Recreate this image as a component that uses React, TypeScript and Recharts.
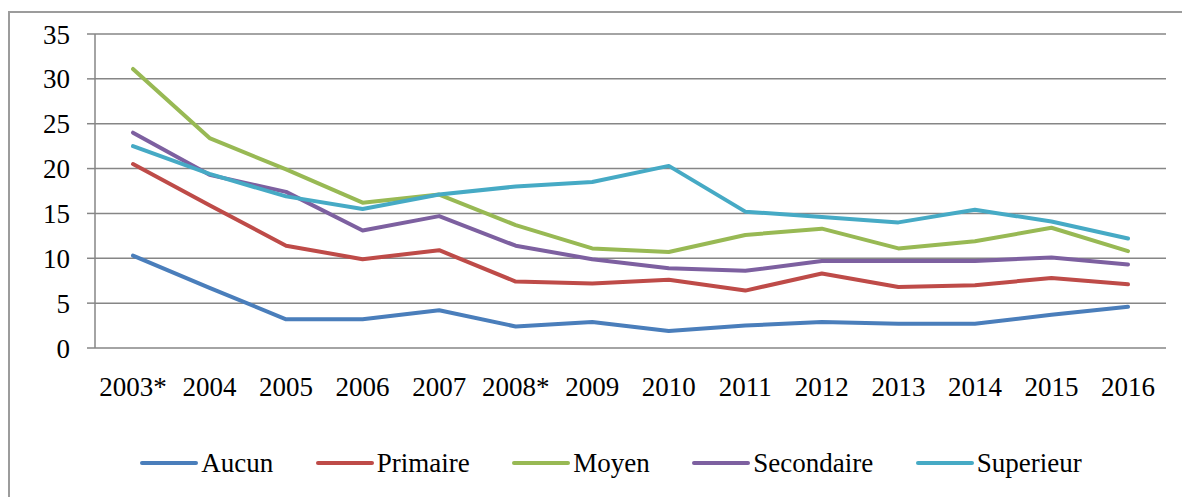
import { LineChart, Line, XAxis, YAxis, CartesianGrid, Legend } from 'recharts';

const years = ['2003*', '2004', '2005', '2006', '2007', '2008*', '2009', '2010', '2011', '2012', '2013', '2014', '2015', '2016'];

const aucun = [10.3, 6.7, 3.2, 3.2, 4.2, 2.4, 2.9, 1.9, 2.5, 2.9, 2.7, 2.7, 3.7, 4.6];
const primaire = [20.5, 15.9, 11.4, 9.9, 10.9, 7.4, 7.2, 7.6, 6.4, 8.3, 6.8, 7.0, 7.8, 7.1];
const moyen = [31.1, 23.4, 19.9, 16.2, 17.1, 13.7, 11.1, 10.7, 12.6, 13.3, 11.1, 11.9, 13.4, 10.8];
const secondaire = [24.0, 19.3, 17.4, 13.1, 14.7, 11.4, 9.9, 8.9, 8.6, 9.7, 9.7, 9.7, 10.1, 9.3];
const superieur = [22.5, 19.4, 16.9, 15.5, 17.1, 18.0, 18.5, 20.3, 15.2, 14.6, 14.0, 15.4, 14.1, 12.2];

const yTicks = [0, 5, 10, 15, 20, 25, 30, 35];
const edgeTicks = years.map((_, i) => i).concat(years.length);

const series = [
  { key: 'Aucun', values: aucun, color: '#4A7EBB' },
  { key: 'Primaire', values: primaire, color: '#BE4B48' },
  { key: 'Moyen', values: moyen, color: '#98B954' },
  { key: 'Secondaire', values: secondaire, color: '#7D60A0' },
  { key: 'Superieur', values: superieur, color: '#46AAC5' },
];

const data = years.map((year, i) => {
  const row: Record<string, string | number> = { year };
  series.forEach((s) => {
    row[s.key] = s.values[i];
  });
  return row;
});

const font = '"Liberation Serif", "Times New Roman", serif';
const grey = '#868686';

const renderLegend = () => (
  <div
    style={{
      width: 1182,
      height: 36,
      display: 'flex',
      justifyContent: 'center',
      alignItems: 'center',
      paddingLeft: 10,
      boxSizing: 'border-box',
      fontFamily: font,
      fontSize: 27,
      color: '#000',
    }}
  >
    {series.map((s, i) => (
      <div
        key={s.key}
        style={{ display: 'flex', alignItems: 'center', marginRight: i === series.length - 1 ? 0 : 42.5 }}
      >
        <svg width={58} height={10} style={{ marginRight: 3 }}>
          <line x1={2} y1={5} x2={56} y2={5} stroke={s.color} strokeWidth={4} strokeLinecap="round" />
        </svg>
        <span>{s.key}</span>
      </div>
    ))}
  </div>
);

const App = () => {
  return (
    <div style={{ position: 'absolute', left: 0, top: 0, width: 1182, height: 497, overflow: 'hidden', background: '#fff' }}>
      <div
        style={{
          position: 'absolute',
          left: 8,
          top: 11,
          width: 1200,
          height: 520,
          border: '2px solid #9c9c9c',
        }}
      />
      <div style={{ position: 'absolute', left: 0, top: 0 }}>
        <LineChart width={1182} height={497} data={data} margin={{ top: 34, right: 16, bottom: 0, left: 15 }}>
          <CartesianGrid vertical={false} stroke={grey} strokeWidth={1.5} />
          <XAxis
            xAxisId="edges"
            type="number"
            domain={[0, years.length]}
            ticks={edgeTicks}
            height={0}
            tickSize={7}
            tickFormatter={() => ''}
            stroke={grey}
            strokeWidth={1.5}
          />
          <XAxis
            dataKey="year"
            height={113}
            padding={{ left: 38, right: 38 }}
            axisLine={false}
            tickLine={false}
            tickSize={0}
            tickMargin={29}
            interval={0}
            tick={{ fill: '#000', fontSize: 27, fontFamily: font }}
          />
          <YAxis
            width={80}
            domain={[0, 35]}
            ticks={yTicks}
            tickSize={8}
            tickMargin={17}
            stroke={grey}
            strokeWidth={1.5}
            tick={{ fill: '#000', fontSize: 27, fontFamily: font }}
          />
          <Legend content={renderLegend} verticalAlign="bottom" wrapperStyle={{ bottom: 16 }} />
          {series.map((s) => (
            <Line
              key={s.key}
              dataKey={s.key}
              stroke={s.color}
              strokeWidth={4}
              strokeLinecap="round"
              strokeLinejoin="round"
              dot={false}
              activeDot={false}
              isAnimationActive={false}
            />
          ))}
        </LineChart>
      </div>
    </div>
  );
};

export default App;
